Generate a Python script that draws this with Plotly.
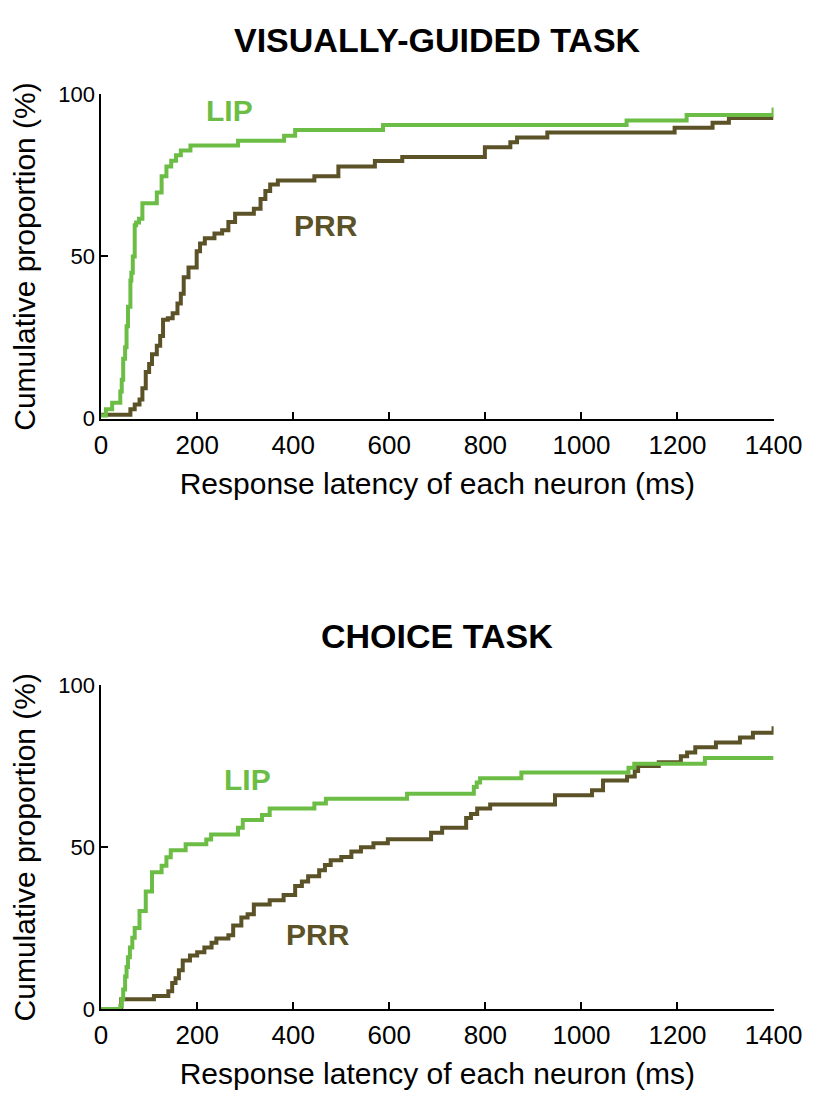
import plotly.graph_objects as go

# response latency (ms) at which each cumulative step occurs, and the new proportion (%)
vg_lip_ms = [0, 10, 23, 40, 43, 46, 50, 53, 56, 61, 63, 66, 70, 73, 79, 86, 116, 126, 136,
             146, 156, 166, 186, 285, 381, 404, 587, 1094, 1219, 1400]
vg_lip_pct = [1, 2.9, 4.9, 8.4, 12, 18.5, 22, 28.5, 34.5, 42.6, 45, 50, 59.6, 60.5, 61.6, 66.4,
              69.7, 74.7, 77.7, 79.5, 81.2, 82.7, 84.2, 85.7, 87.2, 89, 90.5, 91.9, 93.6, 95.9]

vg_prr_ms = [0, 61, 70, 80, 86, 93, 100, 106, 116, 123, 129, 139, 149, 159, 166, 172, 182,
             199, 206, 216, 236, 252, 265, 279, 318, 332, 342, 352, 368, 444, 494, 570, 627,
             799, 852, 866, 929, 1194, 1273, 1307, 1400]
vg_prr_pct = [1.2, 2.9, 4.4, 5.9, 9.4, 14.4, 16.9, 19.9, 22.5, 25.5, 30.5, 31, 32.5, 35.5,
              38.5, 43.6, 46.6, 51.6, 54, 55.6, 57.1, 58.1, 60.6, 63.2, 64.7, 67.7, 70.2,
              72.2, 73.4, 74.7, 77.7, 79.4, 80.7, 83.7, 85.2, 86.7, 88.2, 89.7, 91.2, 92.7, 92.7]

ch_lip_ms = [0, 40, 43, 46, 50, 53, 56, 60, 65, 70, 80, 93, 106, 126, 136, 145, 176, 219,
             229, 285, 295, 335, 351, 444, 468, 637, 776, 782, 789, 875, 1098, 1110, 1257, 1400]
ch_lip_pct = [0, 1, 3, 6, 10, 13, 16, 19, 22, 25, 30.3, 36.3, 42.3, 44.3, 46.9, 49.1, 50.9,
              52.4, 53.9, 56, 58.4, 60, 62, 63.5, 65, 66.5, 68.6, 70, 71.3, 73.1, 74.6, 75.8,
              77.6, 77.6]

ch_prr_ms = [0, 42, 110, 140, 148, 155, 162, 170, 185, 200, 215, 230, 240, 265, 275, 292,
             305, 318, 351, 380, 404, 418, 431, 454, 466, 478, 500, 521, 541, 567, 597, 687,
             710, 760, 770, 783, 810, 945, 1022, 1045, 1095, 1111, 1118, 1161, 1207, 1220,
             1237, 1280, 1330, 1357, 1400]
ch_prr_pct = [0, 3, 4, 5.5, 8, 9.5, 12, 15, 16.5, 17.5, 19, 20.5, 21.8, 22.8, 25.8, 28.3,
              29.3, 32.3, 33.6, 35.2, 38, 39.4, 41, 42.9, 44.5, 46, 47, 48.7, 50, 51.2, 52.5,
              54.5, 56, 59, 60.3, 62, 63.2, 66.1, 67.6, 70.6, 71.9, 73.6, 75.1, 76.3, 78.1,
              79.3, 80.9, 82.4, 83.9, 85.4, 87.4]

x_ticks = [0, 200, 400, 600, 800, 1000, 1200, 1400]
y_ticks = [0, 50, 100]

GREEN = '#6cbd45'
BROWN = '#5c5227'
W, H = 829, 1098


def fy(p):
    # pixel row from the top -> paper fraction
    return 1 - p / H


fig = go.Figure()

panels = [
    ('x', 'y', vg_lip_ms, vg_lip_pct, vg_prr_ms, vg_prr_pct),
    ('x2', 'y2', ch_lip_ms, ch_lip_pct, ch_prr_ms, ch_prr_pct),
]
for xa, ya, lx, ly, px, py in panels:
    fig.add_trace(go.Scatter(x=px, y=py, mode='lines', line=dict(color=BROWN, width=4, shape='hv'),
                             name='PRR', xaxis=xa, yaxis=ya))
    fig.add_trace(go.Scatter(x=lx, y=ly, mode='lines', line=dict(color=GREEN, width=4, shape='hv'),
                             name='LIP', xaxis=xa, yaxis=ya))

axis_style = dict(showgrid=False, zeroline=False, showline=True, linecolor='black', linewidth=1.5,
                  ticks='inside', ticklen=7, tickwidth=1.5, tickcolor='black')

xdom = [90 / W, 793 / W]
xaxis = dict(axis_style, domain=xdom, range=[0, 1400], tickvals=x_ticks, tickfont=dict(size=26),
             ticklabelstandoff=2,
             title=dict(text='Response latency of each neuron (ms)', font=dict(size=30), standoff=14))
yaxis = dict(axis_style, range=[0, 100], tickvals=y_ticks, tickfont=dict(size=22),
             title=dict(text='Cumulative proportion (%)', font=dict(size=30), standoff=18))

fig.update_layout(
    width=W, height=H,
    margin=dict(l=0, r=0, t=0, b=0),
    plot_bgcolor='white', paper_bgcolor='white',
    showlegend=False,
    font=dict(family='Arial, Liberation Sans, sans-serif', color='black'),
    xaxis=dict(xaxis, anchor='y'),
    yaxis=dict(yaxis, anchor='x', domain=[fy(408), fy(76)]),
    xaxis2=dict(xaxis, anchor='y2'),
    yaxis2=dict(yaxis, anchor='x2', domain=[fy(1012), fy(681)]),
)

xc = (xdom[0] + xdom[1]) / 2
fig.add_annotation(text='<b>VISUALLY-GUIDED TASK</b>', x=xc, y=fy(20), xref='paper', yref='paper',
                   showarrow=False, font=dict(size=34), yanchor='middle')
fig.add_annotation(text='<b>CHOICE TASK</b>', x=xc, y=fy(630), xref='paper', yref='paper',
                   showarrow=False, font=dict(size=34), yanchor='middle')

labels = [
    ('LIP', 267, 95, 'x', 'y', GREEN),
    ('PRR', 468, 59.5, 'x', 'y', BROWN),
    ('LIP', 304, 71, 'x2', 'y2', GREEN),
    ('PRR', 452, 23, 'x2', 'y2', BROWN),
]
for txt, lx, ly, xr, yr, col in labels:
    fig.add_annotation(text=f'<b>{txt}</b>', x=lx, y=ly, xref=xr, yref=yr, showarrow=False,
                       font=dict(size=30, color=col))

fig.write_html('out.html')
